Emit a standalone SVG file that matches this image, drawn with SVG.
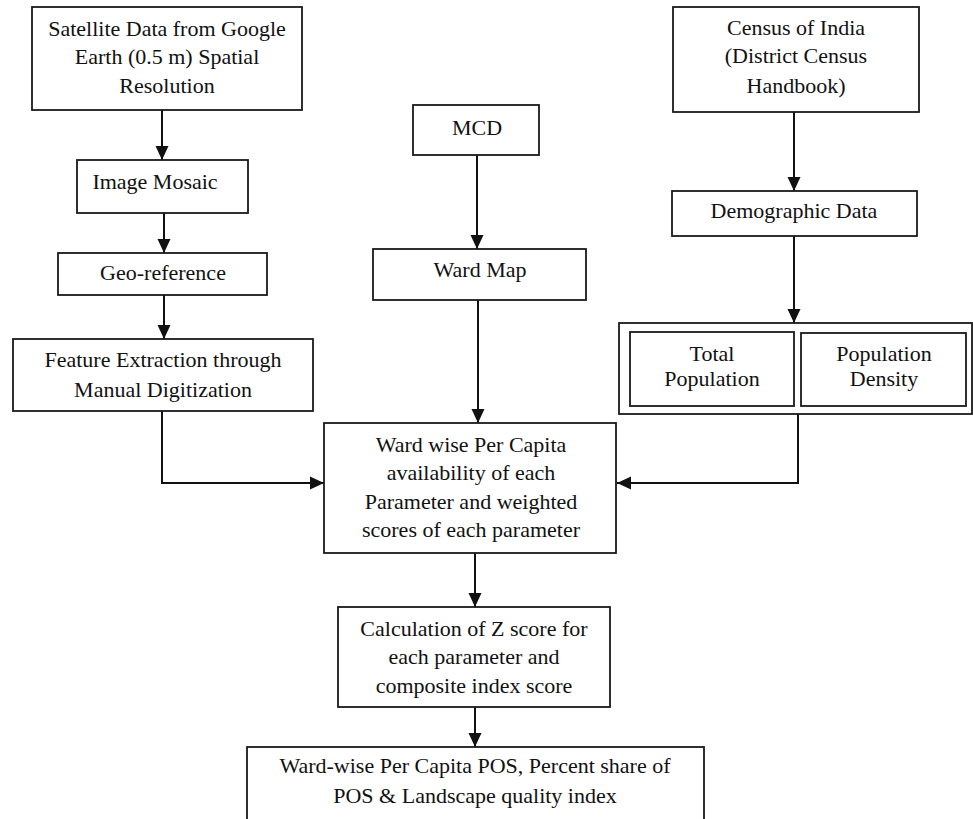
<svg xmlns="http://www.w3.org/2000/svg" width="973" height="819" viewBox="0 0 973 819">
<style>
.b{fill:#fff;stroke:#1a1a1a;stroke-width:1.8}
.t{font-family:"Liberation Serif","Times New Roman",serif;font-size:22px;fill:#111;text-anchor:middle}
.c{fill:none;stroke:#111;stroke-width:2}
</style>
<defs>
<marker id="ah" markerUnits="userSpaceOnUse" markerWidth="14" markerHeight="14" viewBox="0 0 14 14" refX="14" refY="7" orient="auto">
<path d="M0,0.5 L14,7 L0,13.5 Z" fill="#111"/>
</marker>
</defs>
<rect width="973" height="819" fill="#fff"/>
<g id="connectors">
<line class="c" x1="162" y1="110" x2="162" y2="160" marker-end="url(#ah)"/>
<line class="c" x1="164" y1="213" x2="164" y2="253" marker-end="url(#ah)"/>
<line class="c" x1="164" y1="295" x2="164" y2="339" marker-end="url(#ah)"/>
<polyline class="c" points="162,411 162,483 324,483" marker-end="url(#ah)"/>
<line class="c" x1="477" y1="155" x2="477" y2="249" marker-end="url(#ah)"/>
<line class="c" x1="478" y1="300" x2="478" y2="423" marker-end="url(#ah)"/>
<line class="c" x1="794" y1="112" x2="794" y2="191" marker-end="url(#ah)"/>
<line class="c" x1="794" y1="236" x2="794" y2="323" marker-end="url(#ah)"/>
<polyline class="c" points="798,414 798,483 617,483" marker-end="url(#ah)"/>
<line class="c" x1="475" y1="553" x2="475" y2="607" marker-end="url(#ah)"/>
<line class="c" x1="475" y1="707" x2="475" y2="747" marker-end="url(#ah)"/>
</g>
<g id="satellite">
<rect class="b" x="32" y="7" width="270" height="103"/>
<text class="t" x="167" y="36">Satellite Data from Google</text>
<text class="t" x="167" y="64">Earth (0.5 m) Spatial</text>
<text class="t" x="167" y="93">Resolution</text>
</g>
<g id="mosaic">
<rect class="b" x="77" y="160" width="171" height="53"/>
<text class="t" x="155" y="189">Image Mosaic</text>
</g>
<g id="georef">
<rect class="b" x="58" y="253" width="209" height="42"/>
<text class="t" x="163" y="280">Geo-reference</text>
</g>
<g id="feature">
<rect class="b" x="13" y="339" width="300" height="72"/>
<text class="t" x="163" y="367">Feature Extraction through</text>
<text class="t" x="163" y="397">Manual Digitization</text>
</g>
<g id="mcd">
<rect class="b" x="413" y="105" width="126" height="50"/>
<text class="t" x="477" y="135">MCD</text>
</g>
<g id="wardmap">
<rect class="b" x="373" y="249" width="213" height="51"/>
<text class="t" x="480" y="277">Ward Map</text>
</g>
<g id="census">
<rect class="b" x="673" y="7" width="246" height="105"/>
<text class="t" x="796" y="35">Census of India</text>
<text class="t" x="796" y="63">(District Census</text>
<text class="t" x="796" y="93">Handbook)</text>
</g>
<g id="demographic">
<rect class="b" x="672" y="191" width="245" height="45"/>
<text class="t" x="794" y="218">Demographic Data</text>
</g>
<g id="population">
<rect class="b" x="619" y="323" width="353" height="91" stroke-width="1.3"/>
<g id="total">
<rect class="b" x="630" y="332" width="164" height="74"/>
<text class="t" x="712" y="361">Total</text>
<text class="t" x="712" y="386">Population</text>
</g>
<g id="density">
<rect class="b" x="801" y="333" width="165" height="73"/>
<text class="t" x="884" y="361">Population</text>
<text class="t" x="884" y="386">Density</text>
</g>
</g>
<g id="wardwise">
<rect class="b" x="324" y="423" width="292" height="130"/>
<text class="t" x="471" y="452">Ward wise Per Capita</text>
<text class="t" x="471" y="480">availability of each</text>
<text class="t" x="471" y="509">Parameter and weighted</text>
<text class="t" x="471" y="537">scores of each parameter</text>
</g>
<g id="zscore">
<rect class="b" x="338" y="607" width="272" height="100"/>
<text class="t" x="474" y="636">Calculation of Z score for</text>
<text class="t" x="474" y="664">each parameter and</text>
<text class="t" x="474" y="693">composite index score</text>
</g>
<g id="final">
<rect class="b" x="247" y="747" width="457" height="90"/>
<text class="t" x="475" y="773">Ward-wise Per Capita POS, Percent share of</text>
<text class="t" x="475" y="803">POS &amp; Landscape quality index</text>
</g>
</svg>
